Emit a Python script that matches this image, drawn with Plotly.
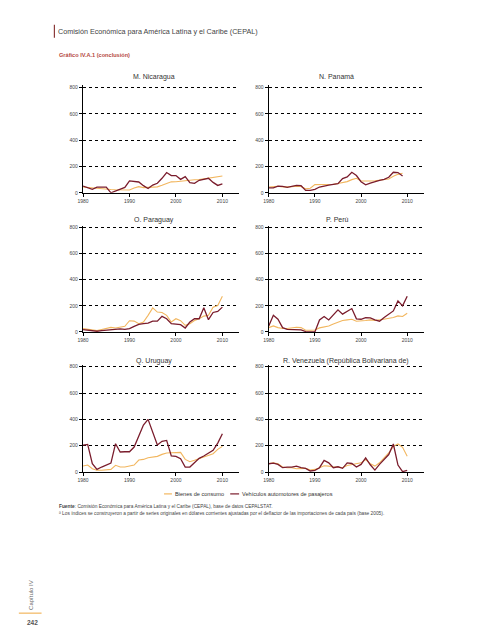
import plotly.graph_objects as go

# ---------------- data ----------------
years = list(range(1980, 2011))
years_pan = list(range(1980, 2010))

nic_consumo = [44, 40, 36, 34, 32, 28, 25, 23, 23, 22, 21, 36, 47, 39, 40, 42, 45, 57, 70, 83, 84, 88, 94, 95, 99, 100, 105, 110, 115, 120, 127]
nic_vehiculos = [51, 41, 26, 43, 41, 43, 0, 15, 31, 41, 90, 87, 82, 54, 33, 59, 72, 110, 154, 131, 131, 102, 123, 77, 72, 95, 105, 110, 79, 56, 67]

pan_consumo = [44, 46, 50, 45, 44, 47, 50, 48, 30, 35, 62, 62, 60, 62, 65, 70, 75, 85, 100, 110, 90, 88, 90, 92, 95, 100, 105, 125, 140, 148]
pan_vehiculos = [38, 38, 51, 49, 41, 46, 56, 54, 18, 18, 26, 44, 54, 59, 64, 69, 108, 120, 156, 131, 84, 61, 74, 87, 95, 102, 118, 156, 154, 128]

par_consumo = [25, 20, 10, 10, 18, 25, 35, 30, 38, 43, 86, 83, 63, 76, 127, 184, 152, 149, 127, 76, 101, 86, 51, 63, 88, 101, 121, 127, 190, 202, 273]
par_vehiculos = [18, 15, 10, 5, 10, 13, 18, 20, 23, 20, 25, 43, 58, 63, 68, 83, 83, 119, 101, 63, 58, 56, 30, 76, 101, 101, 185, 94, 149, 157, 190]

per_consumo = [33, 46, 33, 26, 26, 31, 36, 33, 13, 13, 15, 31, 38, 46, 61, 77, 87, 92, 97, 82, 82, 87, 92, 87, 92, 97, 102, 110, 123, 118, 143]
per_vehiculos = [46, 128, 97, 33, 20, 20, 20, 15, 3, 0, 0, 92, 118, 92, 131, 169, 136, 161, 179, 100, 97, 110, 108, 92, 82, 110, 136, 161, 238, 200, 274]

uru_consumo = [46, 53, 25, 13, 13, 18, 20, 51, 38, 38, 46, 53, 91, 96, 109, 116, 119, 134, 144, 147, 147, 149, 96, 78, 89, 101, 114, 129, 139, 172, 195]
uru_vehiculos = [205, 210, 63, 20, 38, 51, 68, 215, 152, 154, 154, 190, 278, 357, 400, 294, 205, 233, 240, 122, 119, 101, 38, 38, 71, 104, 122, 142, 165, 220, 291]

ven_consumo = [63, 70, 63, 38, 33, 33, 25, 25, 28, 15, 20, 33, 48, 45, 38, 38, 33, 50, 58, 63, 70, 95, 63, 45, 70, 108, 145, 195, 213, 188, 120]
ven_vehiculos = [63, 68, 58, 33, 38, 38, 45, 33, 28, 8, 13, 33, 88, 70, 33, 40, 28, 70, 65, 38, 58, 108, 55, 15, 58, 95, 133, 213, 53, 3, 13]

titles = ["M. Nicaragua", "N. Panamá", "O. Paraguay", "P. Perú", "Q. Uruguay",
          "R. Venezuela (República Bolivariana de)"]
series_names = ["Bienes de consumo", "Vehículos automotores de pasajeros"]
x_ticks = [1980, 1990, 2000, 2010]
y_ticks = [0, 200, 400, 600, 800]

panels = [
    (years, nic_consumo, nic_vehiculos),
    (years_pan, pan_consumo, pan_vehiculos),
    (years, par_consumo, par_vehiculos),
    (years, per_consumo, per_vehiculos),
    (years, uru_consumo, uru_vehiculos),
    (years, ven_consumo, ven_vehiculos),
]

# ---------------- style / layout ----------------
W, H = 489, 640
C_CONS = "#f2b65e"
C_VEH = "#7a1c2c"
FONT = "Liberation Sans, Arial, sans-serif"

col_px = [(78, 236), (266, 423)]
# plot-area pixel bounds; y range extends slightly above 800 so the top grid line is kept
row_px = [(85, 193), (226, 333), (366, 474)]
Y_MAX = 815
title_cx = [150, 335, 150, 336, 150, 344]
title_cy = [76, 220, 362]

fig = go.Figure()
layout = dict(
    width=W, height=H, margin=dict(l=0, r=0, t=0, b=0),
    paper_bgcolor="white", plot_bgcolor="white", showlegend=False,
    font=dict(family=FONT, color="#333333"),
)
annotations = []
shapes = []

for i, (yrs, cons, veh) in enumerate(panels):
    r, c = divmod(i, 2)
    k = "" if i == 0 else str(i + 1)
    x0, x1 = col_px[c]
    y0, y1 = row_px[r]
    layout["xaxis" + k] = dict(
        domain=[x0 / W, x1 / W], anchor="y" + k, range=[1980, 2013.6],
        tickvals=x_ticks, ticks="outside", ticklen=3, tickwidth=1, tickcolor="black",
        showline=True, linecolor="black", linewidth=1.3, showgrid=False, zeroline=False,
        tickfont=dict(size=5, color="#444444"), fixedrange=True,
    )
    layout["yaxis" + k] = dict(
        domain=[1 - y1 / H, 1 - y0 / H], anchor="x" + k, range=[0, Y_MAX],
        tickvals=y_ticks, ticks="outside", ticklen=3, tickwidth=1, tickcolor="black",
        showline=True, linecolor="black", linewidth=1.3,
        showgrid=True, gridcolor="black", griddash="dot", gridwidth=1.1, zeroline=False,
        tickfont=dict(size=5, color="#444444"), fixedrange=True,
    )
    fig.add_trace(go.Scatter(x=yrs, y=cons, mode="lines", name=series_names[0],
                             line=dict(color=C_CONS, width=1.1),
                             xaxis="x" + k, yaxis="y" + k))
    fig.add_trace(go.Scatter(x=yrs, y=veh, mode="lines", name=series_names[1],
                             line=dict(color=C_VEH, width=1.3),
                             xaxis="x" + k, yaxis="y" + k))
    annotations.append(dict(
        x=title_cx[i] / W, y=1 - title_cy[r] / H, xref="paper", yref="paper",
        text=titles[i], showarrow=False, xanchor="center", yanchor="middle",
        font=dict(size=7, color="#333333"),
    ))

# header
annotations.append(dict(x=51 / W, y=1 - 31 / H, xref="paper", yref="paper",
                        text="Comisión Económica para América Latina y el Caribe (CEPAL)",
                        showarrow=False, xanchor="left", yanchor="middle",
                        font=dict(size=7.2, color="#444444")))
shapes.append(dict(type="line", xref="paper", yref="paper",
                   x0=49 / W, x1=49 / W, y0=1 - 24 / H, y1=1 - 37 / H,
                   line=dict(color="#8b3a3a", width=1.2)))
annotations.append(dict(x=52 / W, y=1 - 54 / H, xref="paper", yref="paper",
                        text="<b>Gráfico IV.A.1 (conclusión)</b>",
                        showarrow=False, xanchor="left", yanchor="middle",
                        font=dict(size=5.6, color="#b5483f")))

# legend (manual)
leg_y = 1 - 496 / H
shapes.append(dict(type="line", xref="paper", yref="paper", x0=160 / W, x1=168 / W,
                   y0=leg_y, y1=leg_y, line=dict(color=C_CONS, width=1.2)))
annotations.append(dict(x=169 / W, y=leg_y, xref="paper", yref="paper",
                        text=series_names[0], showarrow=False, xanchor="left",
                        yanchor="middle", font=dict(size=5.6, color="#333333")))
shapes.append(dict(type="line", xref="paper", yref="paper", x0=227 / W, x1=236 / W,
                   y0=leg_y, y1=leg_y, line=dict(color=C_VEH, width=1.2)))
annotations.append(dict(x=236.5 / W, y=leg_y, xref="paper", yref="paper",
                        text=series_names[1], showarrow=False, xanchor="left",
                        yanchor="middle", font=dict(size=5.6, color="#333333")))

# footnotes
annotations.append(dict(x=52 / W, y=1 - 509 / H, xref="paper", yref="paper",
                        text="<b>Fuente</b>: Comisión Económica para América Latina y el Caribe (CEPAL), base de datos CEPALSTAT.",
                        showarrow=False, xanchor="left", yanchor="middle",
                        font=dict(size=4.8, color="#444444")))
annotations.append(dict(x=52 / W, y=1 - 515.5 / H, xref="paper", yref="paper",
                        text="ª Los índices se construyeron a partir de series originales en dólares corrientes ajustadas por el deflactor de las importaciones de cada país (base 2005).",
                        showarrow=False, xanchor="left", yanchor="middle",
                        font=dict(size=4.8, color="#444444")))

# side bar
annotations.append(dict(x=26 / W, y=1 - 598 / H, xref="paper", yref="paper",
                        text="Capítulo IV", textangle=-90, showarrow=False,
                        xanchor="center", yanchor="middle",
                        font=dict(size=6, color="#666666")))
shapes.append(dict(type="line", xref="paper", yref="paper", x0=13 / W, x1=36 / W,
                   y0=1 - 616 / H, y1=1 - 616 / H, line=dict(color="#f2b65e", width=1.2)))
annotations.append(dict(x=27 / W, y=1 - 625 / H, xref="paper", yref="paper",
                        text="<b>242</b>", showarrow=False, xanchor="center",
                        yanchor="middle", font=dict(size=6.5, color="#555555")))

layout["annotations"] = annotations
layout["shapes"] = shapes
fig.update_layout(**layout)

fig.write_html(
    "out.html",
    config={"displayModeBar": False},
    post_script="document.body.style.margin='0';document.body.style.padding='0';document.body.style.overflow='hidden';",
)
